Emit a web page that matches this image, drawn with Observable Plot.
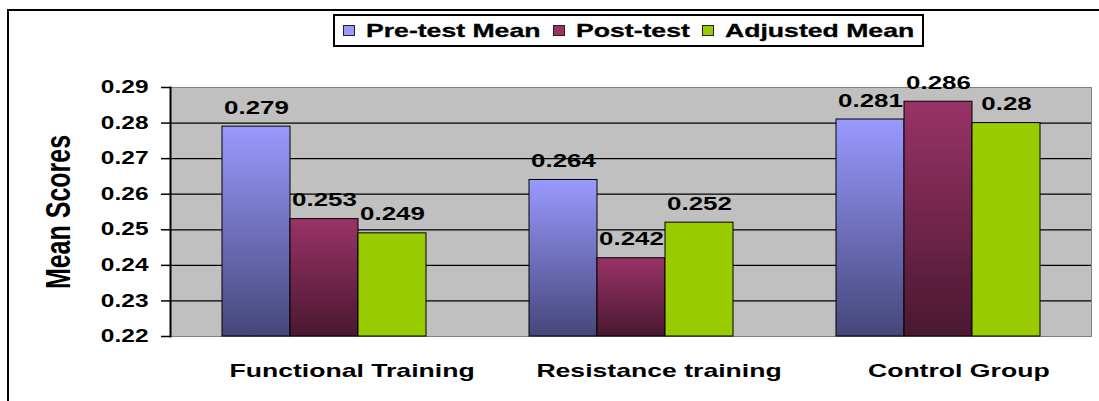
<!DOCTYPE html>
<html>
<head>
<meta charset="utf-8">
<script src="https://cdn.jsdelivr.net/npm/d3@7"></script>
<script src="https://cdn.jsdelivr.net/npm/@observablehq/plot@0.6"></script>
<style>
html, body { margin: 0; padding: 0; background: #fff; overflow: hidden; }
#wrap { position: relative; width: 1099px; height: 401px; font-family: "Liberation Sans", Arial, sans-serif; font-weight: bold; }
#border { position: absolute; left: 7px; top: 9px; width: 1200px; height: 500px; border-left: 2px solid #000; border-top: 2px solid #000; pointer-events: none; }
#legendRow { position: relative; height: 60px; }
#legend { position: absolute; left: 333px; top: 14px; width: 591px; height: 33px; box-sizing: border-box; border: 2px solid #000; background: #fff; display: flex; align-items: center; justify-content: center; }
.item { display: flex; align-items: center; margin: 0 6px; }
.sw { width: 10px; height: 9px; border: 1.5px solid #222; margin-right: 11px; }
.lt { display: inline-block; font-size: 19px; line-height: 1; white-space: nowrap; transform-origin: left center; color: #000; -webkit-text-stroke: 0.3px #000; }
#chart svg { display: block; background: transparent; }
</style>
</head>
<body>
<div id="wrap">
  <div id="border"></div>
  <div id="legendRow"><div id="legend"></div></div>
  <div id="chart"></div>
</div>
<script>
// ---- data ----
const categories = ["Functional Training", "Resistance training", "Control Group"];
const series = ["Pre-test Mean", "Post-test", "Adjusted Mean"];
const preTest = [0.279, 0.264, 0.281];
const postTest = [0.253, 0.242, 0.286];
const adjusted = [0.249, 0.252, 0.28];
const yTicks = [0.22, 0.23, 0.24, 0.25, 0.26, 0.27, 0.28, 0.29];
const yTitle = "Mean Scores";
const seriesFills = ["url(#gPre)", "url(#gPost)", "#99CC00"];
const swatchColors = ["#9999FF", "#993366", "#99CC00"];

const S = 1.4; // horizontal text stretch seen in the reference

const values = [preTest, postTest, adjusted];
const data = categories.flatMap((c, i) => series.map((s, j) => ({category: c, series: s, value: values[j][i]})));

// ---- legend ----
const legend = document.getElementById("legend");
series.forEach((s, j) => {
  const item = document.createElement("div");
  item.className = "item";
  const sw = document.createElement("span");
  sw.className = "sw";
  sw.style.background = swatchColors[j];
  const lt = document.createElement("span");
  lt.className = "lt";
  lt.textContent = s;
  item.append(sw, lt);
  legend.append(item);
});
legend.querySelectorAll(".lt").forEach(el => {
  const w = el.offsetWidth;
  el.style.transform = `scaleX(${S})`;
  el.style.marginRight = `${(S - 1) * w}px`;
});

// ---- chart ----
const plot = Plot.plot({
  width: 1099,
  height: 341,
  marginLeft: 170,
  marginRight: 8,
  marginTop: 27,
  marginBottom: 65,
  style: {fontFamily: '"Liberation Sans", Arial, sans-serif', background: "transparent", color: "#000"},
  fx: {domain: categories, padding: 0, label: null},
  x: {domain: series, paddingInner: 0, paddingOuter: 0.75, axis: null},
  y: {domain: [yTicks[0], yTicks[yTicks.length - 1]], label: null},
  color: {domain: series, range: seriesFills},
  marks: [
    Plot.frame({facet: "super", fill: "#C0C0C0", stroke: "#808080"}),
    Plot.gridY(yTicks.slice(1, -1), {stroke: "#000", strokeOpacity: 1, strokeWidth: 1.2}),
    Plot.barY(data, {fx: "category", x: "series", y1: yTicks[0], y2: "value", fill: "series", stroke: "#000", strokeWidth: 1}),
    Plot.text(data, {fx: "category", x: "series", y: "value", text: d => String(d.value), lineAnchor: "bottom", dy: -13, fontSize: 18.5, fontWeight: "bold", fill: "#000"}),
    Plot.frame({facet: "super", anchor: "left", stroke: "#000", strokeWidth: 2}),
    Plot.axisY({ticks: yTicks, tickFormat: d3.format(".2f"), tickSize: 9, tickPadding: 13, fontSize: 17.5, fontWeight: "bold", stroke: "#000", strokeWidth: 1.5, label: yTitle, labelAnchor: "center", labelOffset: 125, labelArrow: false}),
    Plot.axisFx({anchor: "bottom", tickSize: 0, tickPadding: 27, fontSize: 19, fontWeight: "bold", label: null})
  ]
});
document.getElementById("chart").append(plot);

// gradients for the bar fills
const defs = d3.select(plot).insert("defs", ":first-child");
function grad(id, c0, c1) {
  const g = defs.append("linearGradient").attr("id", id).attr("x1", 0).attr("y1", 0).attr("x2", 0).attr("y2", 1);
  g.append("stop").attr("offset", 0).attr("stop-color", c0);
  g.append("stop").attr("offset", 1).attr("stop-color", c1);
}
grad("gPre", "#9999FF", "#46467A");
grad("gPost", "#993366", "#4A1830");

// axis title size
const yl = plot.querySelector('g[aria-label="y-axis label"]');
if (yl) yl.setAttribute("font-size", 25);

// stretch text horizontally like the reference
const k = 0.8;
plot.querySelectorAll("text").forEach(t => {
  let tr = t.getAttribute("transform") || "";
  if (/rotate/.test(tr)) tr = tr.replace("rotate", `scale(${S},1) rotate`);
  else tr = `${tr} scale(${S},1)`;
  if (t.closest('g[aria-label="fx-axis tick label"]')) {
    const w = t.getComputedTextLength();
    tr = `translate(${k * (S - 1) * w / 2},0) ${tr}`;
  }
  t.setAttribute("transform", tr);
});
</script>
</body>
</html>
